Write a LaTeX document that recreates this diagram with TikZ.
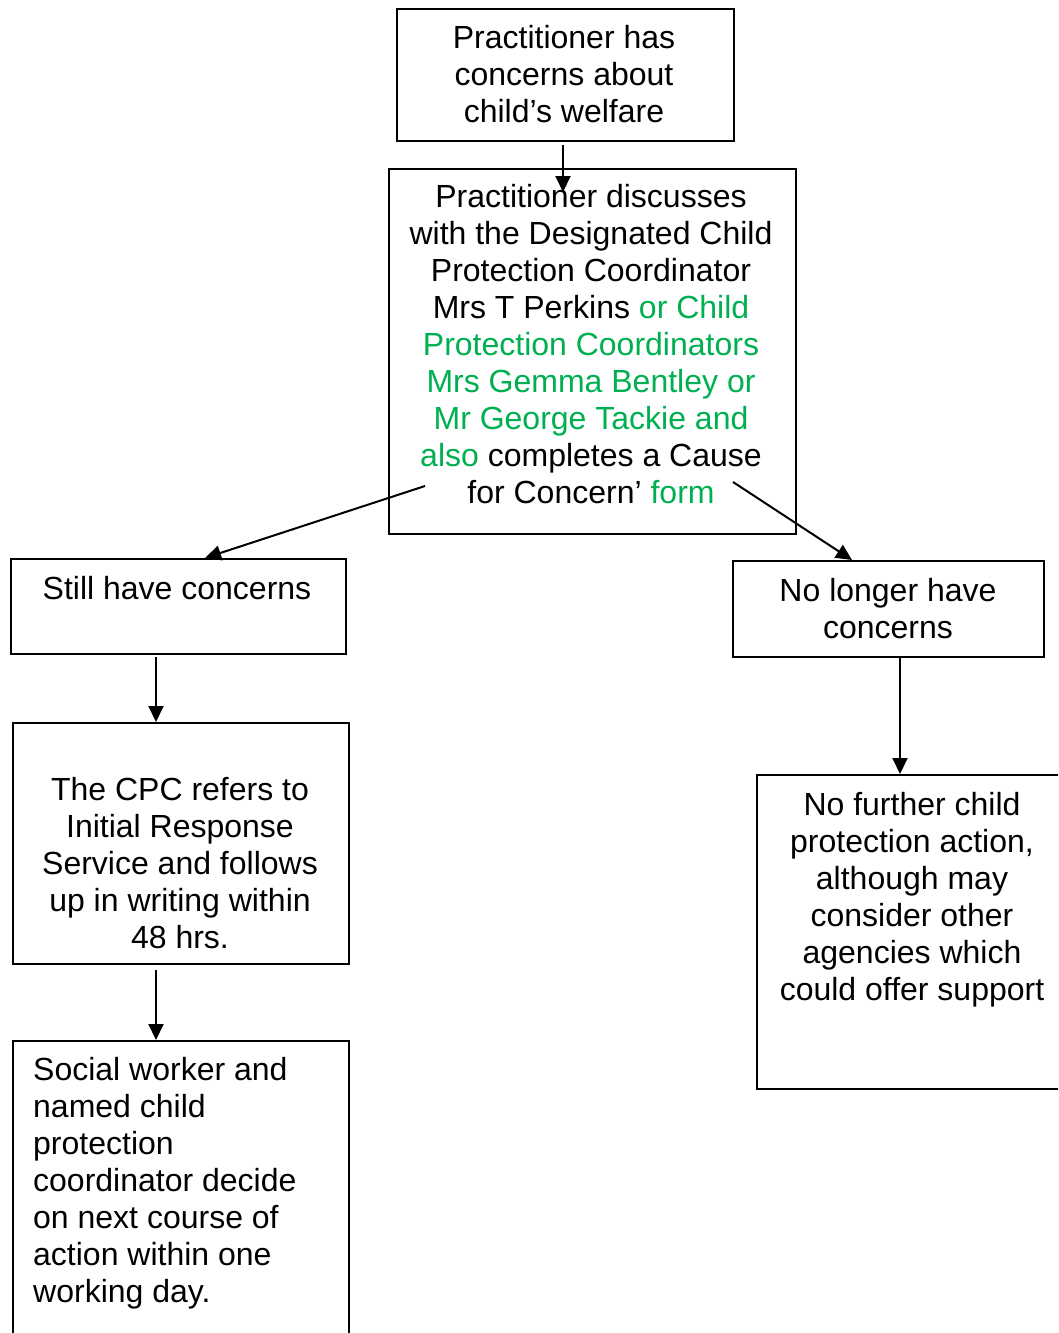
\documentclass[tikz,border=0pt]{standalone}
\usepackage{fontspec}
\setmainfont{Liberation Sans}
\usetikzlibrary{arrows.meta}
\definecolor{cpgreen}{RGB}{0,176,80}
\tikzset{
  panel/.style = {draw, line width=2pt, inner sep=0pt, anchor=north west},
  txt/.style   = {font=\fontsize{32}{37}\selectfont, align=center, inner sep=0pt},
  flow/.style  = {draw, line width=2pt, -{Triangle[length=16pt,width=15pt]}}
}
\newcommand{\grn}[1]{\textcolor{cpgreen}{#1}}
\begin{document}
\begin{tikzpicture}[x=1pt,y=-1pt]
  \clip (0,0) rectangle (1058,1333);
  % boxes
  \node [panel, minimum width=337, minimum height=132] (top)    at (396,8)    {};
  \node [panel, minimum width=407, minimum height=365] (mid)    at (388,168)  {};
  \node [panel, minimum width=335, minimum height=95]  (still)  at (10,558)   {};
  \node [panel, minimum width=311, minimum height=96]  (nolong) at (732,560)  {};
  \node [panel, minimum width=336, minimum height=241] (cpc)    at (12,722)   {};
  \node [panel, minimum width=330, minimum height=314] (nofur)  at (756,774)  {};
  \node [panel, minimum width=336, minimum height=330] (social) at (12,1040)  {};
  % texts
  \node [txt] (topT) at (564,74) {Practitioner has\\concerns about\\child’s welfare};
  \node [txt] (midT) at (591,344.5) {Practitioner discusses\\with the Designated Child\\
    Protection Coordinator\\Mrs T Perkins \grn{or Child}\\\grn{Protection Coordinators}\\
    \grn{Mrs Gemma Bentley or}\\\grn{Mr George Tackie and}\\
    \grn{also} completes a Cause\\for Concern’ \grn{form}};
  \node [txt] (stillT)  at (177,588) {Still have concerns};
  \node [txt] (nolongT) at (888,609) {No longer have\\concerns};
  \node [txt] (cpcT)    at (180,863) {The CPC refers to\\Initial Response\\Service and follows\\
    up in writing within\\48 hrs.};
  \node [txt] (nofurT)  at (912,900) {No further child\\protection action,\\although may\\
    consider other\\agencies which\\could offer support};
  \node [txt, align=left, anchor=west] (socialT) at (33,1183) {Social worker and\\named child\\
    protection\\coordinator decide\\on next course of\\action within one\\working day.};
  % arrow ends
  \coordinate (s1) at (563,145);
  \coordinate (e1) at (563,192);
  \coordinate (s2) at (425,486);
  \coordinate (s3) at (733,482);
  \coordinate (s4) at (156,657);
  \coordinate (s5) at (900,656);
  \coordinate (s6) at (156,970);
  \draw [flow] (s1) -- (e1);
  \draw [flow] (s2) -- (still.north -| 205,0);
  \draw [flow] (s3) -- (nolong.north -| 852,0);
  \draw [flow] (s4) -- (s4 |- cpc.north);
  \draw [flow] (s5) -- (s5 |- nofur.north);
  \draw [flow] (s6) -- (s6 |- social.north);
\end{tikzpicture}
\end{document}
